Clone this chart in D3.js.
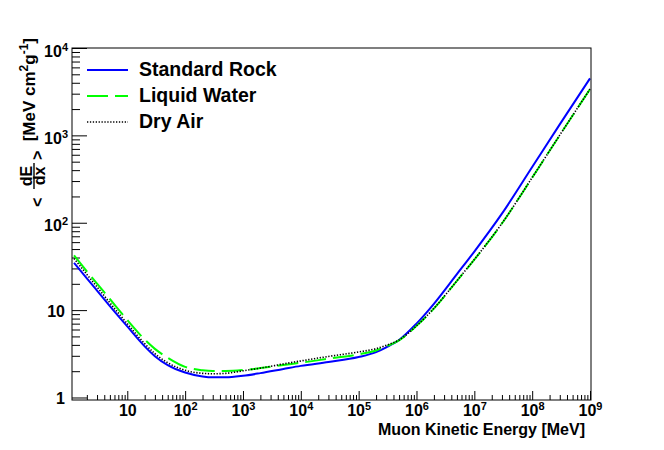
<!DOCTYPE html>
<html>
<head>
<meta charset="utf-8">
<script src="https://cdn.jsdelivr.net/npm/d3@7"></script>
<style>
body { margin: 0; background: #fff; }
text { font-family: "Liberation Sans", Arial, Helvetica, sans-serif; font-weight: bold; fill: #000; }
</style>
</head>
<body>
<script>
// muon kinetic energy [MeV]
var energy = [1.2, 2, 3, 5, 10, 20, 30, 50, 100, 200, 300, 500,
              1e3, 2e3, 5e3, 1e4, 3e4, 1e5, 2e5, 3e5, 5e5,
              1e6, 2e6, 5e6, 1e7, 3e7, 1e8, 3e8, 1e9];
// <dE/dx> [MeV cm2 g-1]
var rockLoss = [34.8, 23.1, 16.7, 11.1, 6.5, 3.85, 2.97, 2.35, 1.93, 1.74, 1.70, 1.70,
                1.77, 1.90, 2.12, 2.30, 2.55, 2.90, 3.30, 3.75, 4.55,
                7.0, 11.8, 25.8, 46.8, 127, 434, 1337, 4490];
var waterLoss = [42.3, 27.8, 20.1, 13.4, 7.7, 4.6, 3.6, 2.85, 2.24, 2.05, 2.01, 2.01,
                 2.06, 2.17, 2.36, 2.50, 2.78, 3.12, 3.45, 3.85, 4.5,
                 6.6, 10.4, 21.6, 37.8, 98, 328, 1005, 3380];
var airLoss = [39.0, 25.6, 18.4, 12.1, 7.0, 4.13, 3.18, 2.50, 2.05, 1.89, 1.87, 1.89,
               2.02, 2.17, 2.42, 2.62, 2.95, 3.32, 3.62, 3.95, 4.55,
               6.6, 10.5, 21.7, 38.0, 98.5, 329, 1008, 3390];

var seriesNames = ["Standard Rock", "Liquid Water", "Dry Air"];
var seriesColors = ["#0000ff", "#00ff00", "#000000"];
var seriesDash = [null, "21,7", "1.3,1.6"];
var seriesWidth = [2, 2, 1.6];

var xTickExp = [1, 2, 3, 4, 5, 6, 7, 8, 9];
var yTickExp = [0, 1, 2, 3, 4];

var WIDTH = 664, HEIGHT = 450;
var LEFT = 72, RIGHT = 591, TOP = 48, BOTTOM = 400;

var svg = d3.select("body")
        .append("svg")
        .attr("width", WIDTH)
        .attr("height", HEIGHT)
        .style("background-color", "white");

var x = d3.scaleLog().domain([1.107, 1.04e9]).range([LEFT, RIGHT]);
var y = d3.scaleLog().domain([0.936, 1e4]).range([BOTTOM, TOP]);

// minor ticks 2..9 in every decade that is inside the frame
function minorTicks(scale, firstExp, lastExp) {
    var out = [];
    var dom = scale.domain();
    for (var e = firstExp; e <= lastExp; e++) {
        for (var k = 2; k <= 9; k++) {
            var v = k * Math.pow(10, e);
            if (v > dom[0] && v < dom[1]) out.push(v);
        }
    }
    return out;
}

// "10" with exponent as superscript
function powerLabel(sel, exp) {
    sel.text(null);
    if (exp == 0) { sel.text("1"); return; }
    sel.append("tspan").text("10");
    if (exp > 1) {
        sel.append("tspan")
           .attr("dy", -6)
           .attr("font-size", "11px")
           .text(exp);
    }
}

// x axis
var xMajor = xTickExp.map(function(e){ return Math.pow(10, e); });
svg.append("g")
   .attr("transform", "translate(0," + BOTTOM + ")")
   .call(d3.axisBottom(x).tickValues(minorTicks(x, 0, 8)).tickSize(-5).tickFormat(""))
   .call(function(g){ g.select(".domain").remove(); });

var xAxisG = svg.append("g")
   .attr("transform", "translate(0," + BOTTOM + ")")
   .call(d3.axisBottom(x).tickValues(xMajor).tickSize(-9).tickFormat(""));
xAxisG.select(".domain").remove();
xAxisG.selectAll(".tick text")
   .attr("y", 16)
   .attr("dy", null)
   .attr("font-size", "16px")
   .each(function(d, i){ powerLabel(d3.select(this), xTickExp[i]); });

// y axis
var yMajor = yTickExp.map(function(e){ return Math.pow(10, e); });
svg.append("g")
   .attr("transform", "translate(" + LEFT + ",0)")
   .call(d3.axisLeft(y).tickValues(minorTicks(y, 0, 3)).tickSize(-8).tickFormat(""))
   .call(function(g){ g.select(".domain").remove(); });

var yAxisG = svg.append("g")
   .attr("transform", "translate(" + LEFT + ",0)")
   .call(d3.axisLeft(y).tickValues(yMajor).tickSize(-15).tickFormat(""));
yAxisG.select(".domain").remove();
yAxisG.selectAll(".tick text")
   .attr("x", function(d, i){ return yTickExp[i] > 1 ? -4 : -7; })
   .attr("dy", function(d, i){ return yTickExp[i] > 1 ? 8 : 6; })
   .attr("font-size", "16px")
   .each(function(d, i){ powerLabel(d3.select(this), yTickExp[i]); });

svg.selectAll(".tick line").attr("stroke", "#000").attr("stroke-width", 1);

// curves
var allSeries = [rockLoss, waterLoss, airLoss];
var line = d3.line()
        .x(function(d){ return x(d[0]); })
        .y(function(d){ return y(d[1]); })
        .curve(d3.curveMonotoneX);

svg.append("g")
   .selectAll("path")
   .data(allSeries)
   .enter()
   .append("path")
   .attr("d", function(s){ return line(d3.zip(energy, s)); })
   .attr("fill", "none")
   .attr("stroke", function(s, i){ return seriesColors[i]; })
   .attr("stroke-width", function(s, i){ return seriesWidth[i]; })
   .attr("stroke-dasharray", function(s, i){ return seriesDash[i]; });

// frame
svg.append("rect")
   .attr("x", LEFT)
   .attr("y", TOP)
   .attr("width", RIGHT - LEFT)
   .attr("height", BOTTOM - TOP)
   .attr("fill", "none")
   .attr("stroke", "#000")
   .attr("stroke-width", 1);

// legend
var legend = svg.append("g")
   .selectAll("g")
   .data(seriesNames)
   .enter()
   .append("g")
   .attr("transform", function(d, i){ return "translate(0," + (i * 26) + ")"; });

legend.append("line")
   .attr("x1", 87).attr("x2", 128)
   .attr("y1", 70).attr("y2", 70)
   .attr("stroke", function(d, i){ return seriesColors[i]; })
   .attr("stroke-width", function(d, i){ return seriesWidth[i]; })
   .attr("stroke-dasharray", function(d, i){ return seriesDash[i]; });

legend.append("text")
   .attr("x", 139)
   .attr("y", 76)
   .attr("font-size", "19.5px")
   .text(function(d){ return d; });

// x title
svg.append("text")
   .attr("x", 585)
   .attr("y", 435)
   .attr("text-anchor", "end")
   .attr("font-size", "16px")
   .text("Muon Kinetic Energy [MeV]");

// y title: <dE/dx> [MeV cm2 g-1], rotated
var yt = svg.append("g").attr("transform", "translate(35,0) rotate(-90)");
var unit = yt.append("text")
   .attr("x", -38)
   .attr("y", 0)
   .attr("text-anchor", "end")
   .attr("font-size", "17px");
unit.append("tspan").text("[MeV cm");
unit.append("tspan").attr("dy", -7).attr("font-size", "12px").text("2");
unit.append("tspan").attr("dy", 7).text("g");
unit.append("tspan").attr("dy", -7).attr("font-size", "12px").text("-1");
unit.append("tspan").attr("dy", 7).text("]");

yt.append("text").attr("x", -207).attr("y", 8).attr("font-size", "16px").text("<");
yt.append("text").attr("x", -176).attr("y", -3).attr("text-anchor", "middle")
   .attr("font-size", "16px").text("dE");
yt.append("line").attr("x1", -189).attr("x2", -163).attr("y1", -1).attr("y2", -1)
   .attr("stroke", "#000").attr("stroke-width", 1.4);
yt.append("text").attr("x", -176).attr("y", 10).attr("text-anchor", "middle")
   .attr("font-size", "16px").text("dx");
yt.append("text").attr("x", -160).attr("y", 8).attr("font-size", "16px").text(">");
</script>
</body>
</html>
